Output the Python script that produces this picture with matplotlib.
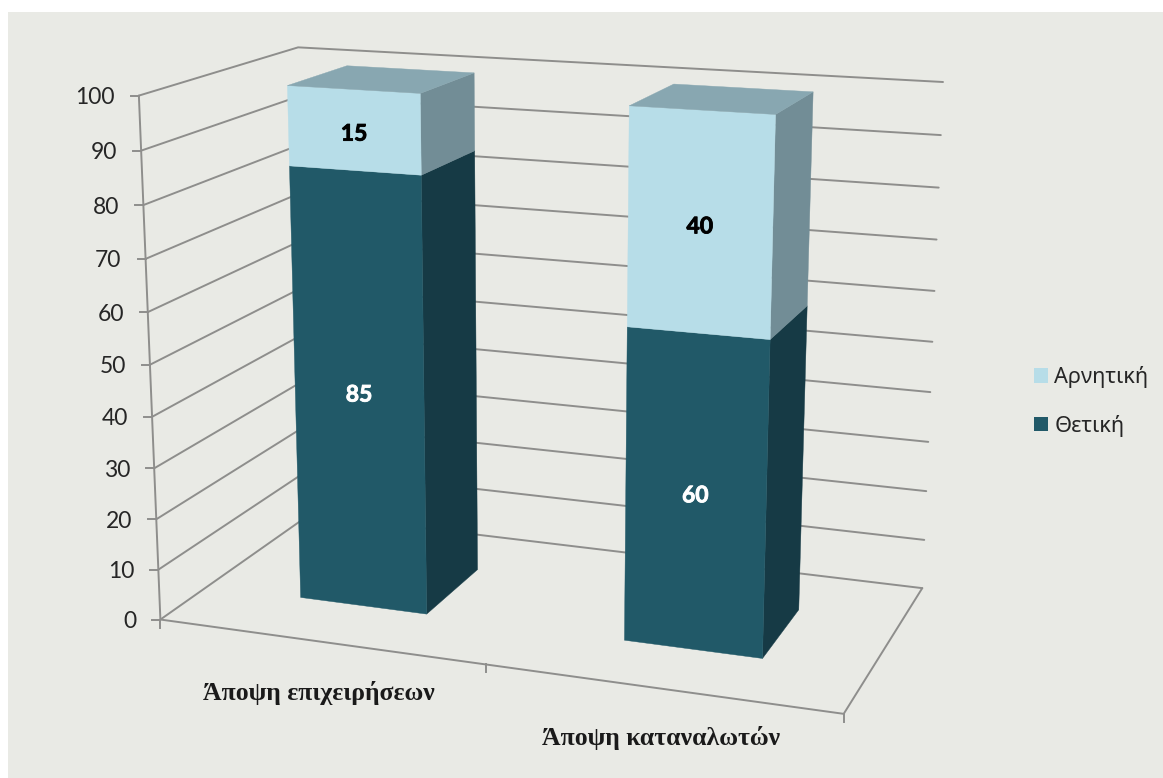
#!/usr/bin/env python3
# -*- coding: utf-8 -*-
"""3D stacked bars (Excel style), drawn on a plain 2D axes through a small camera model."""
import numpy as np
import matplotlib
matplotlib.use("Agg")
import matplotlib.pyplot as plt
import matplotlib.patheffects as pe
from matplotlib.patches import Patch, Rectangle

# ----------------- Data -----------------
categories = ["Άποψη επιχειρήσεων", "Άποψη καταναλωτών"]
positive = [85, 60]
negative = [15, 40]
series_names = ["Αρνητική", "Θετική"]
y_ticks = [0, 10, 20, 30, 40, 50, 60, 70, 80, 90, 100]

# ----------------- Style -----------------
BG = "#E9EAE5"
GRID = "#8E8E8C"
DARK = {"front": "#215968", "side": "#163A45", "top": "#1B4A57"}
LIGHT = {"front": "#B7DDE8", "side": "#728D96", "top": "#88A7B1"}
BAR_W = 0.4        # in category units
DEPTH = (0.3, 0.7) # bar front/back within the floor depth


# ----------------- Camera: box corners (x, v, z) -> pixels -----------------
box_world = [(0, 0, 0), (2, 0, 0), (2, 0, 1), (0, 0, 1), (0, 100, 0), (0, 100, 1), (2, 100, 1)]
box_pixel = [(160, 619), (844, 714), (922, 588), (310, 515), (139, 96), (298, 47), (943, 82)]


def fit_camera(world, pixel):
    rows, rhs = [], []
    for (x, v, z), (u, w) in zip(world, pixel):
        X, Y, Z = x / 2.0, v / 100.0, z
        rows.append([X, Y, Z, 1, 0, 0, 0, 0, -u * X, -u * Y, -u * Z])
        rhs.append(u)
        rows.append([0, 0, 0, 0, X, Y, Z, 1, -w * X, -w * Y, -w * Z])
        rhs.append(w)
    sol = np.linalg.lstsq(np.array(rows, float), np.array(rhs, float), rcond=None)[0]
    return np.append(sol, 1.0).reshape(3, 4)


CAM = fit_camera(box_world, box_pixel)


def project(x, v, z):
    p = CAM @ np.array([x / 2.0, v / 100.0, z, 1.0])
    return p[0] / p[2], p[1] / p[2]


def path3d(ax, pts, **kw):
    xy = np.array([project(*p) for p in pts])
    ax.plot(xy[:, 0], xy[:, 1], color=GRID, solid_capstyle="round", zorder=1.5, **kw)


def face(ax, pts, color):
    xy = np.array([project(*p) for p in pts])
    ax.fill(xy[:, 0], xy[:, 1], facecolor=color, edgecolor=color, linewidth=0.3, zorder=2.5)


def draw_segment(ax, i, v0, v1, cols, with_top=False):
    x0, x1 = i + 0.5 - BAR_W / 2, i + 0.5 + BAR_W / 2
    z0, z1 = DEPTH
    face(ax, [(x1, v0, z0), (x1, v0, z1), (x1, v1, z1), (x1, v1, z0)], cols["side"])
    face(ax, [(x0, v0, z0), (x1, v0, z0), (x1, v1, z0), (x0, v1, z0)], cols["front"])
    if with_top:
        face(ax, [(x0, v1, z0), (x1, v1, z0), (x1, v1, z1), (x0, v1, z1)], cols["top"])


def bar_label(ax, u, w, value, color):
    ax.text(u, w, str(value), ha="center", va="center", fontsize=16.5, fontweight="bold",
            family="Lato", color=color, zorder=4,
            path_effects=[pe.withStroke(linewidth=0.6, foreground=color)])


# ----------------- Figure -----------------
fig = plt.figure(figsize=(11.63, 7.78), dpi=100, facecolor="white")
ax = fig.add_axes([0, 0, 1, 1])
ax.set_xlim(0, 1163)
ax.set_ylim(778, 0)
ax.axis("off")
ax.add_patch(Rectangle((8, 12), 1155, 766, facecolor=BG, edgecolor="none", zorder=0))

LW = 1.4
# walls and floor
for v in y_ticks:
    path3d(ax, [(0, v, 0), (0, v, 1), (2, v, 1)], lw=LW)
path3d(ax, [(0, 0, 0), (0, 100, 0)], lw=LW)
path3d(ax, [(0, 0, 0), (2, 0, 0), (2, 0, 1)], lw=LW)

# ticks
for v in y_ticks:
    u, w = project(0, v, 0)
    ax.plot([u - 8, u], [w, w], color=GRID, lw=LW, zorder=1.5)
    ax.text(u - 24, w + 2, str(v), ha="right", va="center", fontsize=16.5,
            family=["Lato", "Noto Sans"], color="#262626")
for i in range(len(categories) + 1):
    u, w = project(i, 0, 0)
    ax.plot([u, u], [w, w + 8], color=GRID, lw=LW, zorder=1.5)

# bars
for i in range(len(categories)):
    draw_segment(ax, i, 0, positive[i], DARK)
    draw_segment(ax, i, positive[i], positive[i] + negative[i], LIGHT, with_top=True)
    u, w = project(i + 0.5, positive[i] / 2.0, DEPTH[0])
    bar_label(ax, u, w + 2, positive[i], "white")
    u, w = project(i + 0.5, positive[i] + negative[i] / 2.0, DEPTH[0])
    bar_label(ax, u, w + 4, negative[i], "black")

# category labels
label_pos = [(319, 693), (661, 738)]
for name, (u, w) in zip(categories, label_pos):
    ax.text(u, w, name, ha="center", va="center", fontsize=18.5, fontweight="bold",
            family="Liberation Serif", color="#1A1A1A")

# legend
handles = [Patch(facecolor=LIGHT["front"], label=series_names[0]),
           Patch(facecolor=DARK["front"], label=series_names[1])]
ax.legend(handles=handles, loc="center left", bbox_to_anchor=(1034, 401.5),
          bbox_transform=ax.transData, frameon=False, handlelength=0.65, handleheight=0.65,
          handletextpad=0.28, labelspacing=1.21, borderpad=0, borderaxespad=0,
          prop={"family": "Noto Sans", "size": 15.7}, labelcolor="#262626")

fig.savefig("out.png", dpi=100, facecolor=fig.get_facecolor())
